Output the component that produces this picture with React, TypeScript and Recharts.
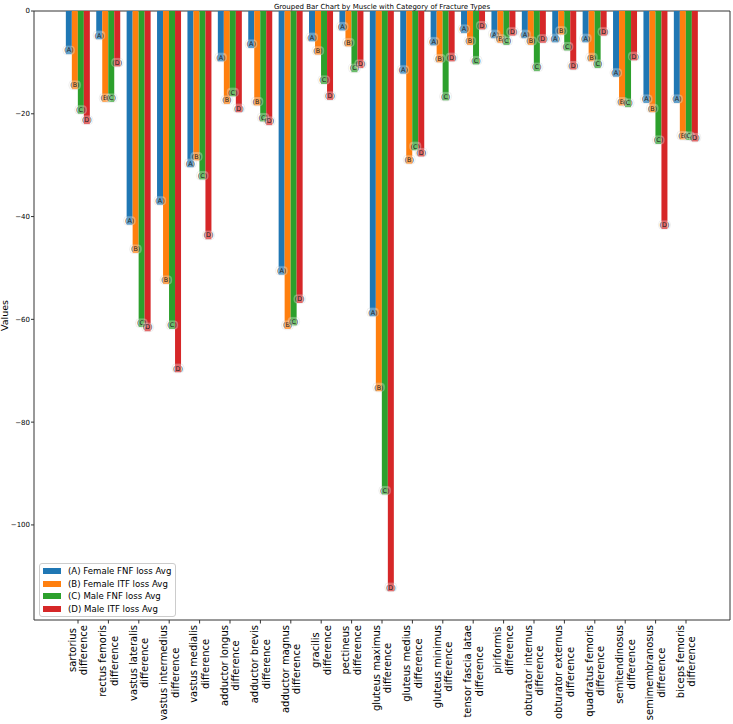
import { BarChart, Bar, XAxis, YAxis, Legend, LabelList, CartesianGrid } from 'recharts'

const muscles = [
    'sartorius\ndifference',
    'rectus femoris\ndifference',
    'vastus lateralis\ndifference',
    'vastus intermedius\ndifference',
    'vastus medialis\ndifference',
    'adductor longus\ndifference',
    'adductor brevis\ndifference',
    'adductor magnus\ndifference',
    'gracilis\ndifference',
    'pectineus\ndifference',
    'gluteus maximus\ndifference',
    'gluteus medius\ndifference',
    'gluteus minimus\ndifference',
    'tensor fascia latae\ndifference',
    'piriformis\ndifference',
    'obturator internus\ndifference',
    'obturator externus\ndifference',
    'quadratus femoris\ndifference',
    'semitendinosus\ndifference',
    'semimembranosus\ndifference',
    'biceps femoris\ndifference',
]

const femaleFnf = [-8.4, -5.5, -41.6, -37.7, -30.4, -9.8, -7.2, -51.3, -5.9, -3.8, -59.4, -12.2, -6.7, -4.3, -5.3, -5.3, -6.1, -6.1, -12.8, -17.9, -17.9]
const femaleItf = [-15.2, -17.7, -47.1, -53.1, -29.1, -18.1, -18.4, -61.9, -8.5, -6.9, -74.0, -29.7, -10.0, -6.6, -6.2, -6.6, -4.6, -9.8, -18.4, -19.7, -25.0]
const maleFnf = [-20.0, -17.7, -61.5, -61.9, -32.8, -16.6, -21.5, -61.2, -14.2, -11.9, -94.1, -27.1, -17.4, -10.4, -6.6, -11.7, -7.7, -11.1, -18.7, -25.9, -25.1]
const maleItf = [-22.0, -10.8, -62.3, -70.3, -44.4, -19.7, -22.2, -56.8, -17.3, -11.1, -112.9, -28.3, -9.8, -3.6, -4.8, -6.2, -11.4, -4.8, -9.6, -42.4, -25.4]

const yTicks = [0, -20, -40, -60, -80, -100]

const data = muscles.map((name, i) => ({
    name,
    a: femaleFnf[i],
    b: femaleItf[i],
    c: maleFnf[i],
    d: maleItf[i],
}))

const FONT = 'DejaVu Sans'
const AXIS = '#333'

let ctx: CanvasRenderingContext2D | null = null
function textWidth(s: string, font: string) {
    if (!ctx) ctx = document.createElement('canvas').getContext('2d')
    if (!ctx) return s.length * 6
    ctx.font = font
    return ctx.measureText(s).width
}

function MuscleTick({ x, y, payload }: any) {
    const lines = String(payload.value).split('\n')
    const longest = Math.max(...lines.map((l) => textWidth(l, `10px "${FONT}"`)))
    const cy = y + 1.5 + longest / 2
    return (
        <text
            transform={`translate(${x},${cy}) rotate(-90)`}
            textAnchor="middle"
            fontSize={10}
            fontFamily={FONT}
            fill="#000"
        >
            {lines.map((l, i) => (
                <tspan key={i} x={0} y={(i - (lines.length - 1) / 2) * 11.5 + 3.6}>
                    {l}
                </tspan>
            ))}
        </text>
    )
}

function tagLabel(tag: string) {
    return (props: any) => {
        const { x, y, width, height } = props
        const end = Math.max(y, y + height)
        const cx = x + width / 2
        const cy = end - 4
        return (
            <g>
                <rect x={cx - 6} y={cy - 4.5} width={12} height={9} rx={4} fill="#fff" fillOpacity={0.3} stroke="#999" strokeOpacity={0.25} strokeWidth={0.6} />
                <text x={cx} y={cy + 2.3} textAnchor="middle" fontSize={6.4} fontFamily={FONT} fill="#222">
                    {tag}
                </text>
            </g>
        )
    }
}

function renderLegend(props: any) {
    const items = props.payload || []
    return (
        <div
            style={{
                border: '1px solid #ccc',
                borderRadius: 3,
                background: 'rgba(255,255,255,0.8)',
                padding: '1px 4px 1px 3px',
                fontFamily: FONT,
                fontSize: 8.6,
                color: '#000',
            }}
        >
            {items.map((it: any) => (
                <div key={it.value} style={{ display: 'flex', alignItems: 'center', height: 12.5 }}>
                    <span style={{ display: 'inline-block', width: 18, height: 6, background: it.color, marginRight: 7 }} />
                    <span>{it.value}</span>
                </div>
            ))}
        </div>
    )
}

export default function App() {
    return (
        <div style={{ position: 'absolute', left: 0, top: 0 }}>
            <BarChart
                width={733}
                height={724}
                data={data}
                margin={{ top: 11, right: 3, left: 0, bottom: 0 }}
                barCategoryGap="10%"
                barGap={0}
            >
                {/* frame: top and right spines */}
                <CartesianGrid
                    horizontalPoints={[11]}
                    verticalPoints={[730]}
                    stroke={AXIS}
                    strokeDasharray=""
                />
                <text x={382} y={8.5} textAnchor="middle" fontSize={7} fontFamily={FONT} fill="#000">
                    Grouped Bar Chart by Muscle with Category of Fracture Types
                </text>
                <text transform="translate(7.5,315.5) rotate(-90)" textAnchor="middle" fontSize={9.5} fontFamily={FONT} fill="#000">
                    Values
                </text>
                <XAxis
                    dataKey="name"
                    interval={0}
                    height={104}
                    tickSize={3.5}
                    tickMargin={0}
                    padding={{ left: 28.8, right: 28.8 }}
                    tick={<MuscleTick />}
                    axisLine={{ stroke: AXIS }}
                    tickLine={{ stroke: AXIS }}
                />
                <YAxis
                    domain={[-118.5, 0]}
                    ticks={yTicks}
                    width={34}
                    tickSize={3}
                    tickMargin={1}
                    allowDataOverflow
                    tickFormatter={(v: number) => String(v).replace('-', '\u2212')}
                    tick={{ fontSize: 7, fill: '#000', fontFamily: FONT }}
                    axisLine={{ stroke: AXIS }}
                    tickLine={{ stroke: AXIS }}
                />
                <Legend
                    layout="horizontal"
                    verticalAlign="middle"
                    align="center"
                    wrapperStyle={{ left: 39, top: 563, width: 'auto' }}
                    content={renderLegend}
                />
                <Bar dataKey="a" name="(A) Female FNF loss Avg" fill="#1f77b4" isAnimationActive={false}>
                    <LabelList content={tagLabel('(A)')} />
                </Bar>
                <Bar dataKey="b" name="(B) Female ITF loss Avg" fill="#ff7f0e" isAnimationActive={false}>
                    <LabelList content={tagLabel('(B)')} />
                </Bar>
                <Bar dataKey="c" name="(C) Male FNF loss Avg" fill="#2ca02c" isAnimationActive={false}>
                    <LabelList content={tagLabel('(C)')} />
                </Bar>
                <Bar dataKey="d" name="(D) Male ITF loss Avg" fill="#d62728" isAnimationActive={false}>
                    <LabelList content={tagLabel('(D)')} />
                </Bar>
            </BarChart>
        </div>
    )
}
